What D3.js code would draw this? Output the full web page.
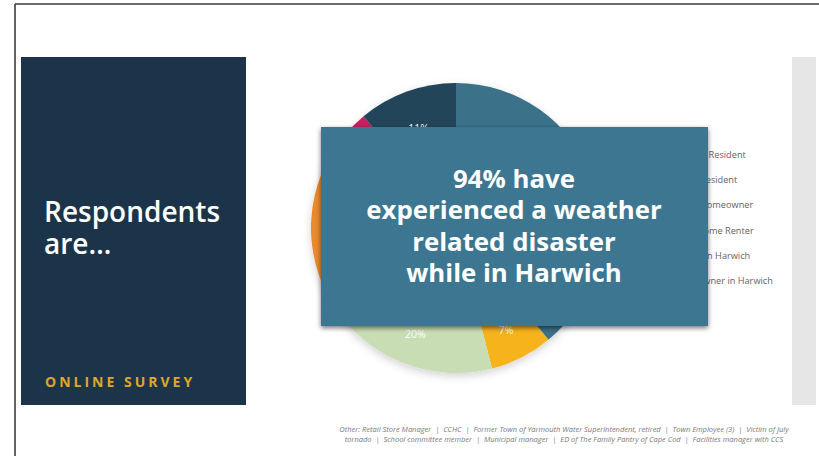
<!DOCTYPE html>
<html>
<head>
<meta charset="utf-8">
<script src="https://cdn.jsdelivr.net/npm/d3@7"></script>
<style>
  html, body { margin: 0; padding: 0; background: #fff; }
  svg { display: block; font-family: "Open Sans", "Noto Sans", sans-serif; }
  .note { white-space: pre; }
</style>
</head>
<body>
<svg id="chart" width="819" height="456"></svg>
<script>
// Respondent types (pie order, clockwise from 12 o'clock)
const categories = [
  "Year-Round Resident",
  "Part-Time Resident",
  "Part-Time Homeowner",
  "Seasonal Home Renter",
  "Employees in Harwich",
  "Business Owner in Harwich"
];
// Share of respondents, percent
const values = [39, 7, 20, 20, 3, 11];
const sliceColors = ["#3a7189", "#f7b31c", "#c9ddb5", "#e98a2d", "#c2245c", "#22445a"];

const titleLines = ["Respondents", "are\u2026"];
const sourceLabel = "ONLINE SURVEY";
const calloutLines = ["94% have", "experienced a weather", "related disaster", "while in Harwich"];
const noteLines = [
  "Other: Retail Store Manager  |  CCHC  |  Former Town of Yarmouth Water Superintendent, retired  |  Town Employee (3)  |  Victim of July",
  "tornado  |  School committee member  |  Municipal manager  |  ED of The Family Pantry of Cape Cod  |  Facilities manager with CCS"
];

const svg = d3.select("#chart");
const defs = svg.append("defs");

const pieShadow = defs.append("filter").attr("id", "pieShadow")
  .attr("x", "-20%").attr("y", "-20%").attr("width", "140%").attr("height", "140%");
pieShadow.append("feDropShadow").attr("dx", 0).attr("dy", 3)
  .attr("stdDeviation", 4).attr("flood-color", "#000").attr("flood-opacity", 0.18);

const boxShadow = defs.append("filter").attr("id", "boxShadow")
  .attr("x", "-10%").attr("y", "-10%").attr("width", "120%").attr("height", "125%");
boxShadow.append("feDropShadow").attr("dx", 0).attr("dy", 2)
  .attr("stdDeviation", 2.5).attr("flood-color", "#000").attr("flood-opacity", 0.55);

// Slide frame
svg.append("line").attr("x1", 15).attr("y1", 4).attr("x2", 819).attr("y2", 4)
  .attr("stroke", "#3c3c3c").attr("stroke-width", 1.6);
svg.append("line").attr("x1", 15).attr("y1", 4).attr("x2", 15).attr("y2", 456)
  .attr("stroke", "#3c3c3c").attr("stroke-width", 1.6);

// Left title panel
svg.append("rect").attr("x", 21).attr("y", 57).attr("width", 225).attr("height", 348)
  .attr("fill", "#1b3449");
svg.append("g").selectAll("text").data(titleLines).join("text")
  .attr("x", 44).attr("y", (d, i) => 222 + i * 32)
  .attr("fill", "#ffffff").attr("font-size", 28).attr("font-weight", 600)
  .text(d => d);
svg.append("text").attr("x", 45).attr("y", 387)
  .attr("fill", "#e2a526").attr("font-size", 14).attr("font-weight", 700)
  .attr("letter-spacing", 3)
  .text(sourceLabel);

// Right side bar
svg.append("rect").attr("x", 792).attr("y", 57).attr("width", 24).attr("height", 348)
  .attr("fill", "#e6e6e6");

// Pie
const R = 145, cx = 456, cy = 228;
const pie = d3.pie().sort(null).value(d => d.value);
const arc = d3.arc().innerRadius(0).outerRadius(R);
const labelArc = d3.arc().innerRadius(R * 0.55).outerRadius(R * 0.97);
const data = categories.map((c, i) => ({ name: c, value: values[i], color: sliceColors[i] }));
const arcs = pie(data);

const g = svg.append("g").attr("transform", `translate(${cx},${cy})`);
g.append("g").attr("filter", "url(#pieShadow)")
  .selectAll("path").data(arcs).join("path")
  .attr("d", arc).attr("fill", d => d.data.color);
g.append("g").selectAll("text").data(arcs).join("text")
  .attr("transform", d => `translate(${labelArc.centroid(d)})`)
  .attr("text-anchor", "middle").attr("dy", "0.75em")
  .attr("fill", "#ffffff").attr("font-size", 10.5)
  .text(d => d.data.value + "%");

// Legend
const legend = svg.append("g").attr("transform", "translate(656,0)");
const rows = legend.selectAll("g").data(data).join("g")
  .attr("transform", (d, i) => `translate(0,${158 + i * 25.2})`);
rows.append("rect").attr("x", -14).attr("y", -7).attr("width", 8).attr("height", 8)
  .attr("fill", d => d.color);
rows.append("text").attr("x", 0).attr("y", 0)
  .attr("fill", "#636363").attr("font-size", 9.2)
  .text(d => d.name);

// Callout box
svg.append("rect").attr("x", 321).attr("y", 127).attr("width", 387).attr("height", 199)
  .attr("fill", "#3d7690").attr("filter", "url(#boxShadow)");
svg.append("g").selectAll("text").data(calloutLines).join("text")
  .attr("x", 514).attr("y", (d, i) => 188 + i * 31.3)
  .attr("text-anchor", "middle").attr("fill", "#ffffff")
  .attr("font-size", 25.8).attr("font-weight", 700)
  .text(d => d);

// Footnote
svg.append("g").selectAll("text").data(noteLines).join("text")
  .attr("class", "note")
  .attr("x", 564).attr("y", (d, i) => 432 + i * 9.5)
  .attr("text-anchor", "middle").attr("fill", "#7a7a7a")
  .attr("font-size", 7.5).attr("font-style", "italic")
  .text(d => d);
</script>
</body>
</html>
